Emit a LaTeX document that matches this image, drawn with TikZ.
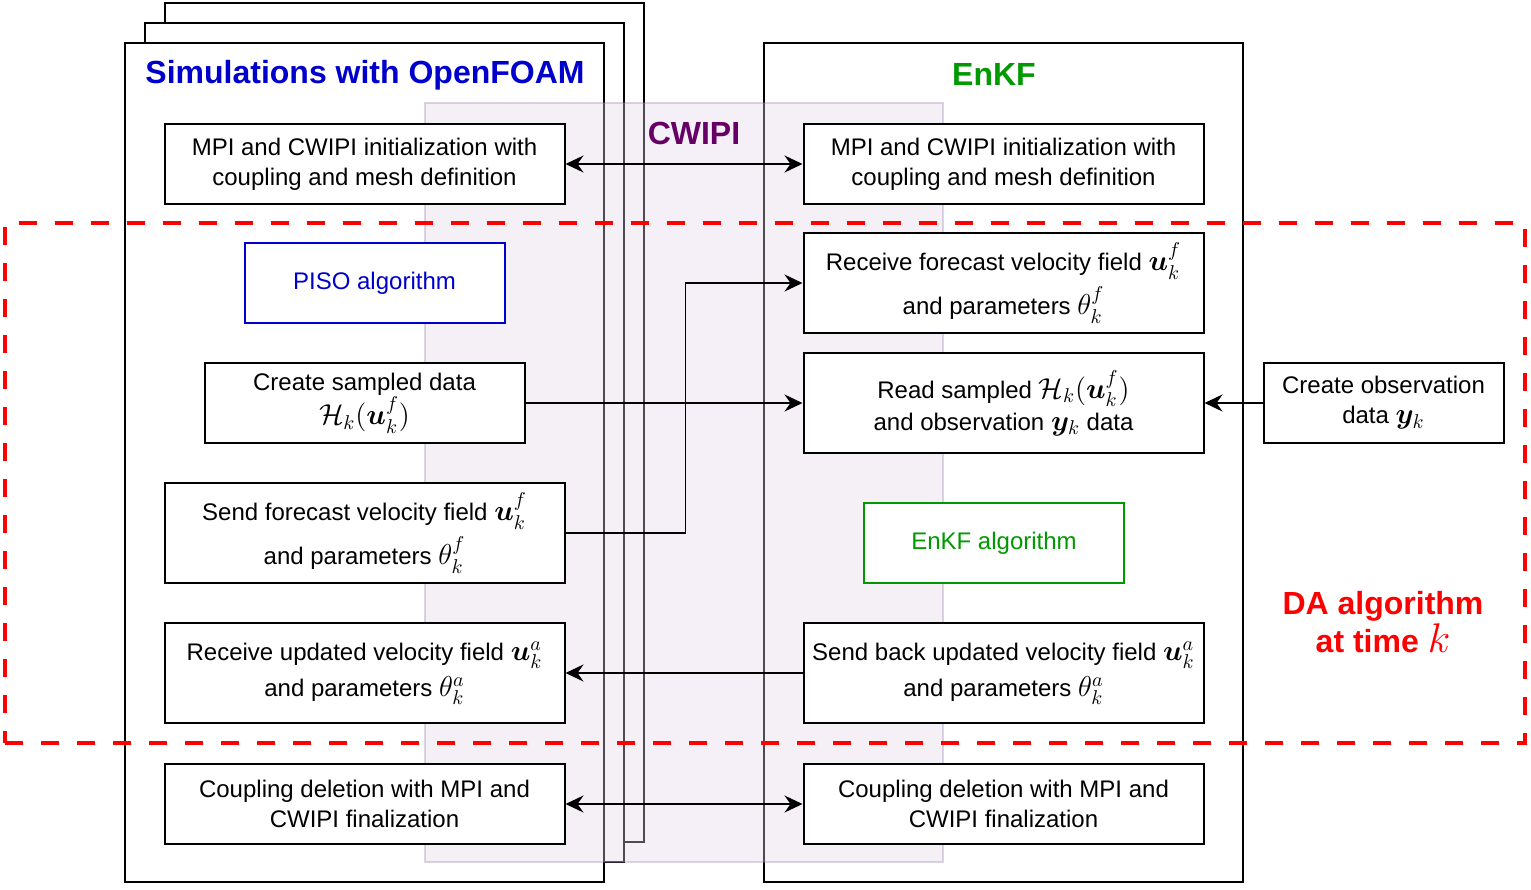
\documentclass[tikz,border=0pt]{standalone}
\usepackage{amsmath,bm}
\usepackage[no-math]{fontspec}
\setmainfont{Liberation Sans}
\usetikzlibrary{arrows.meta}
\definecolor{simblue}{HTML}{0000CC}
\definecolor{enkfgreen}{HTML}{009900}
\definecolor{cwipipurple}{HTML}{660066}
\definecolor{cwipifill}{HTML}{E1D5E7}
\definecolor{cwipiline}{HTML}{9673A6}
\definecolor{dared}{HTML}{FF0000}
% math a bit larger than the text, as in the drawing
\newcommand{\bigmath}[1]{{\fontsize{14.5}{15}\selectfont$#1$}}
\tikzset{
  frame/.style={draw, line width=1pt, fill=white, inner sep=0pt},
  box/.style={draw, line width=1pt, fill=white, align=center, inner sep=1pt,
    minimum width=200pt, minimum height=40pt, font=\fontsize{12}{15}\selectfont},
  title/.style={font=\fontsize{16}{19}\selectfont\bfseries, align=center},
  arr/.style={line width=0.8pt, -{Stealth[length=9pt, width=8.5pt, inset=3pt]}},
  dblarr/.style={line width=0.8pt, {Stealth[length=9pt, width=8.5pt, inset=3pt]}-{Stealth[length=9pt, width=8.5pt, inset=3pt]}}
}
\begin{document}
\begin{tikzpicture}[x=0.5pt, y=-0.5pt]
\useasboundingbox (0,0) rectangle (1531,889);
% stacked OpenFOAM runs
\node[frame, minimum width=239.5pt, minimum height=419.5pt] (simback) at (404.5, 422.5) {};
\node[frame, minimum width=239.5pt, minimum height=419.5pt] (simmid) at (384.5, 442.5) {};
\node[frame, minimum width=239.5pt, minimum height=419.5pt] (simframe) at (364.5, 462.5) {};
\node[frame, minimum width=239.5pt, minimum height=419.5pt] (enkfframe) at (1003.5, 462.5) {};
% coupling library
\node[draw=cwipiline, draw opacity=0.3, fill=cwipifill, fill opacity=0.35, line width=1pt,
  minimum width=259pt, minimum height=379.5pt, inner sep=0pt] (cwipi) at (684, 482.5) {};
\node[title, text=simblue] (simtitle) at (365, 75) {Simulations with OpenFOAM};
\node[title, text=enkfgreen] (enkftitle) at (994, 74) {EnKF};
\node[title, text=cwipipurple] (cwipititle) at (694, 133) {CWIPI};
% OpenFOAM side
\node[box] (siminit) at (364.5, 164) {MPI and CWIPI initialization with\\coupling and mesh definition};
\node[box, draw=simblue, text=simblue, minimum width=130pt] (piso) at (374.5, 283) {PISO algorithm};
\node[box, minimum width=160pt] (simsample) at (364.5, 403) {Create sampled data\\\bigmath{\mathcal{H}_k(\bm{u}_k^f)}};
\node[box, minimum height=50pt] (simsend) at (364.5, 533) {Send forecast velocity field \bigmath{\bm{u}_k^f}\\[3pt]and parameters \bigmath{\theta_k^f}};
\node[box, minimum height=50pt] (simrecv) at (364.5, 673) {Receive updated velocity field \bigmath{\bm{u}_k^a}\\[3pt]and parameters \bigmath{\theta_k^a}};
\node[box] (simend) at (364.5, 804) {Coupling deletion with MPI and\\CWIPI finalization};
% EnKF side
\node[box] (enkfinit) at (1003.5, 164) {MPI and CWIPI initialization with\\coupling and mesh definition};
\node[box, minimum height=50pt] (enkfrecv) at (1003.5, 283) {Receive forecast velocity field \bigmath{\bm{u}_k^f}\\[3pt]and parameters \bigmath{\theta_k^f}};
\node[box, minimum height=50pt] (enkfread) at (1003.5, 403) {Read sampled \bigmath{\mathcal{H}_k(\bm{u}_k^f)}\\[1pt]and observation \bigmath{\bm{y}_k} data};
\node[box, draw=enkfgreen, text=enkfgreen, minimum width=130pt] (enkfalgo) at (994, 543) {EnKF algorithm};
\node[box, minimum height=50pt] (enkfsendback) at (1003.5, 673) {Send back updated velocity field \bigmath{\bm{u}_k^a}\\[3pt]and parameters \bigmath{\theta_k^a}};
\node[box] (enkfend) at (1003.5, 804) {Coupling deletion with MPI and\\CWIPI finalization};
\node[box, minimum width=120pt] (obsdata) at (1383.5, 403) {Create observation\\data \bigmath{\bm{y}_k}};
% assimilation loop
\node[draw=dared, line width=2.2pt, dash pattern=on 9pt off 9pt,
  minimum width=760pt, minimum height=260pt, inner sep=0pt] (daloop) at (765, 483) {};
\node[title, text=dared] (datitle) at (1383, 622) {DA algorithm\\at time {\fontsize{20}{19}\selectfont$k$}};
% exchanges
\draw[dblarr] (siminit) -- (enkfinit);
\draw[arr] (simsend.east) -- ++(120,0) |- (enkfrecv);
\draw[arr] (simsample) -- (enkfread);
\draw[arr] (obsdata) -- (enkfread);
\draw[arr] (enkfsendback) -- (simrecv);
\draw[dblarr] (simend) -- (enkfend);
\end{tikzpicture}
\end{document}
